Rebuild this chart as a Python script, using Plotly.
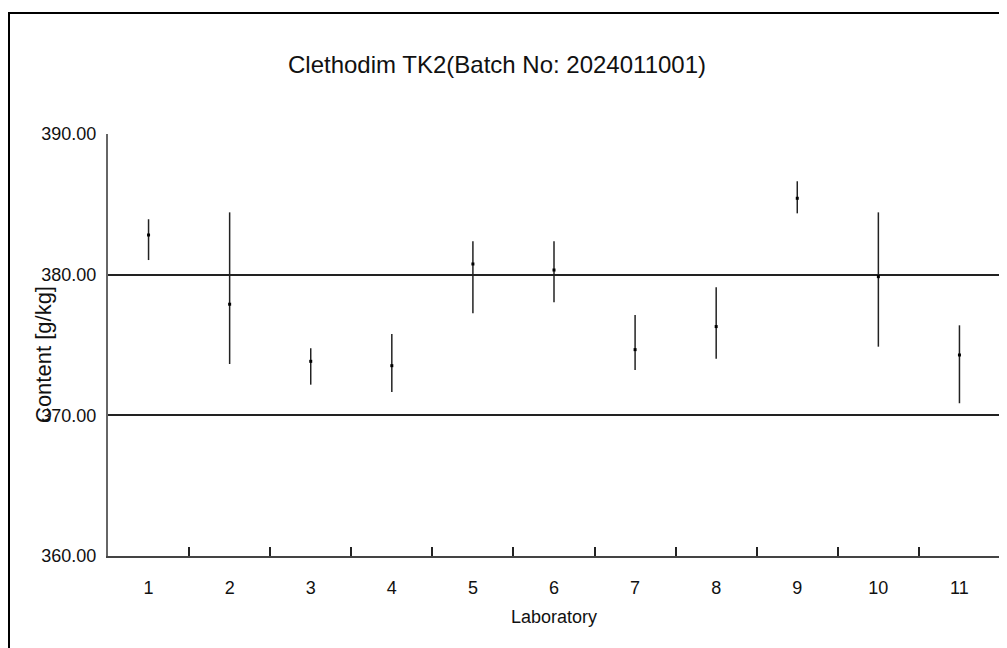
import plotly.graph_objects as go

labs = [1, 2, 3, 4, 5, 6, 7, 8, 9, 10, 11]
lab_labels = ["1", "2", "3", "4", "5", "6", "7", "8", "9", "10", "11"]
content = [382.82, 377.90, 373.84, 373.53, 380.76, 380.33, 374.67, 376.31, 385.43, 379.86, 374.29]
upper = [383.94, 384.43, 374.77, 375.79, 382.37, 382.37, 377.14, 379.10, 386.64, 384.43, 376.40]
lower = [381.04, 373.65, 372.18, 371.66, 377.26, 378.04, 373.23, 374.03, 384.36, 374.88, 370.86]
y_ticks = [360, 370, 380, 390]
y_tick_text = ["360.00", "370.00", "380.00", "390.00"]

err_plus = [u - c for u, c in zip(upper, content)]
err_minus = [c - l for c, l in zip(content, lower)]
boundaries = [i + 0.5 for i in labs]

FONT = "Liberation Sans, Arial, sans-serif"

# page body adds an 8px offset; layout numbers below are in figure coordinates
L, T, R, B = 100, 126, 15, 100
PW, PH = 1007 - L - R, 648 - T - B

fig = go.Figure()
fig.add_trace(go.Scatter(
    x=labs, y=content, mode="markers",
    marker=dict(symbol="square", size=3, color="black"),
    error_y=dict(type="data", symmetric=False, array=err_plus, arrayminus=err_minus,
                 width=0, thickness=1.5, color="#222222"),
    showlegend=False, hoverinfo="x+y",
))
fig.add_trace(go.Scatter(x=[0.5, 11.5], y=[360, 360], xaxis="x2", mode="markers",
                         marker=dict(opacity=0), showlegend=False, hoverinfo="skip"))

fig.update_layout(
    width=1007, height=648,
    margin=dict(l=L, r=R, t=T, b=B),
    paper_bgcolor="white", plot_bgcolor="white",
    font=dict(family=FONT, size=18, color="#111111"),
    title=dict(text="Clethodim TK2(Batch No: 2024011001)", xref="container", yref="container",
               x=489 / 1007, y=1 - 57 / 648, xanchor="center", yanchor="middle",
               font=dict(family=FONT, size=24, color="#111111")),
    xaxis=dict(range=[0.5, 11.5], tickvals=labs, ticktext=lab_labels, ticks="",
               showgrid=False, zeroline=False, showline=True, linecolor="#444444", linewidth=2,
               ticklabelstandoff=14, tickfont=dict(size=18),
               title=dict(text="Laboratory", standoff=14, font=dict(family=FONT, size=18))),
    xaxis2=dict(range=[0.5, 11.5], overlaying="x", side="bottom", tickvals=boundaries,
                ticktext=[""] * len(boundaries), ticks="inside", ticklen=9, tickwidth=1.5,
                tickcolor="#222222", showgrid=False, zeroline=False, showline=False,
                showticklabels=False),
    yaxis=dict(range=[360, 390], tickvals=y_ticks, ticktext=y_tick_text, ticks="",
               showgrid=True, gridcolor="#222222", gridwidth=1.8, zeroline=False,
               showline=True, linecolor="#666666", linewidth=2, ticklabelstandoff=6,
               tickfont=dict(size=18)),
    annotations=[dict(text="Content [g/kg]", textangle=-90, xref="paper", yref="paper",
                      x=(35 - L) / PW, y=(T + PH - 347) / PH, xanchor="center", yanchor="middle",
                      showarrow=False, font=dict(family=FONT, size=22, color="#111111"))],
    shapes=[dict(type="rect", xref="paper", yref="paper",
                 x0=(1 - L) / PW, x1=(1030 - L) / PW,
                 y0=(T + PH - 680) / PH, y1=(T + PH - 5) / PH,
                 line=dict(color="black", width=2), layer="below")],
)

fig.write_html("out.html")
